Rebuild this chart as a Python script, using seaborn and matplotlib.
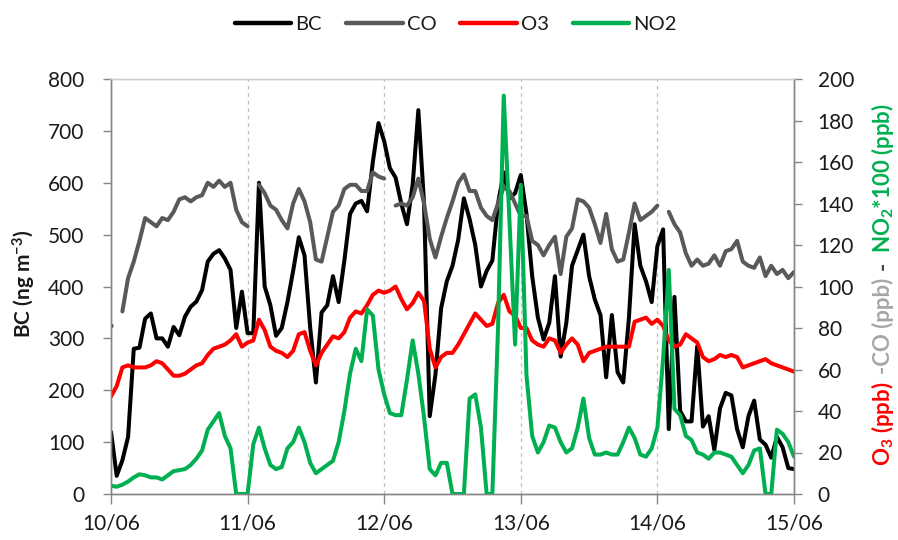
import numpy as np
import pandas as pd
import matplotlib
matplotlib.use("Agg")
import matplotlib.pyplot as plt
from matplotlib.lines import Line2D
import seaborn as sns

# ---------------- data (hourly, 10/06 00h -> 15/06 00h) ----------------
hours = list(range(121))
day_ticks = [0, 24, 48, 72, 96, 120]
day_labels = ["10/06", "11/06", "12/06", "13/06", "14/06", "15/06"]

bc = [120, 35, 65, 110, 280, 282, 338, 348, 300, 300, 284, 322, 306, 342, 361, 371, 393, 448, 463, 470, 454, 432, 320, 390, 310,
      310, 600, 400, 364, 305, 320, 370, 430, 495, 460, 320, 215, 350, 364, 420, 370, 450, 540, 560, 565, 545, 640, 715, 680,
      628, 610, 560, 520, 596, 740, 560, 150, 230, 358, 410, 440, 490, 570, 530, 480, 400, 430, 450, 560, 620, 570, 580, 615,
      540, 420, 340, 298, 330, 420, 265, 330, 440, 470, 500, 420, 375, 345, 225, 345, 235, 215, 340, 520, 440, 410, 370, 478,
      510, 125, 380, 160, 140, 140, 285, 130, 150, 85, 165, 195, 190, 125, 90, 150, 180, 105, 95, 70, 110, 90, 50, 48]

nan = float("nan")
co = [81, nan, 88, 104, 112, 122, 133, 131, 129, 133, 132, 136, 142, 143, 141, 143, 144, 150, 148, 151, 148, 150, 137, 131, 129,
      nan, 149, 145, 139, 137, 132, 128, 140, 147, 141, 131, 113, 112, 124, 136, 139, 147, 149, 149, 146, 146, 155, 153, 152,
      nan, 139, 140, 139, 143, 152, 140, 123, 114, 124, 133, 141, 150, 154, 146, 146, 138, 134, 132, 140, 148, 146, 140, 134,
      134, 122, 120, 115, 120, 124, 106, 124, 128, 142, 141, 138, 130, 121, 135, 118, 112, 113, 126, 140, 132, 134, 136, 139,
      nan, 136, 130, 126, 116, 110, 113, 110, 111, 115, 110, 117, 118, 122, 112, 110, 109, 114, 105, 110, 106, 108, 104, 107]

o3 = [47, 52, 61, 62, 61, 61, 61, 62, 64, 63, 60, 57, 57, 58, 60, 62, 63, 67, 70, 71, 72, 74, 77, 71, 73,
      74, 84, 79, 71, 69, 68, 66, 69, 77, 78, 69, 62, 68, 72, 76, 75, 78, 85, 88, 87, 91, 96, 98, 97,
      98, 100, 94, 89, 92, 97, 93, 70, 61, 66, 68, 68, 72, 77, 82, 87, 84, 81, 82, 92, 96, 88, 86, 80,
      80, 74, 72, 71, 75, 74, 68, 72, 75, 72, 64, 68, 69, 70, 71, 71, 71, 71, 71, 83, 84, 85, 82, 84,
      81, 74, 71, 72, 77, 75, 73, 66, 64, 65, 67, 66, 67, 66, 61, 62, 63, 64, 65, 63, 62, 61, 60, 59]

no2 = [4, 3.5, 4.5, 6, 8, 9.5, 9, 8, 8, 7, 9, 11, 11.5, 12, 14, 17, 21, 31, 35, 39, 28, 22, 0, 0, 0,
       24, 32, 22, 14, 12, 13, 22, 25, 32, 25, 15, 10, 12, 14, 16, 25, 40, 58, 70, 64, 89, 86, 60, 48,
       39, 38, 38, 55, 74, 58, 37, 12, 9, 15, 15, 0, 0, 0, 46, 48, 32, 0, 0, 80, 192, 132, 72, 149,
       57, 28, 20, 25, 33, 32, 25, 20, 22, 32, 46, 27, 19, 19, 20, 19, 19, 25, 32, 27, 19, 18, 22, 32,
       65, 108, 41, 38, 28, 26, 20, 19, 17, 20, 20, 19, 18, 14, 10, 14, 21, 22, 0, 0, 31, 29, 25, 18]

series_names = ["BC", "CO", "O3", "NO2"]
series_colors = ["#000000", "#595959", "#FF0000", "#00B050"]

# ---------------- figure ----------------
sns.set_theme(style="white")
plt.rcParams['font.family'] = ['Lato', 'DejaVu Sans']
plt.rcParams['mathtext.default'] = 'regular'

W, H = 898, 540
fig = plt.figure(figsize=(W / 100, H / 100), dpi=100)
ax = fig.add_axes([111 / W, 1 - 494 / H, 683 / W, 415 / H])
ax2 = ax.twinx()

df = pd.DataFrame({"hour": hours, "BC": bc, "CO": co, "O3": o3, "NO2": no2})
df["seg"] = df["CO"].isna().cumsum()

lw = 2.9
sns.lineplot(data=df, x="hour", y="BC", ax=ax, color=series_colors[0], lw=lw,
             solid_joinstyle="round", solid_capstyle="round")
co_df = df.dropna(subset=["CO"])
sns.lineplot(data=co_df, x="hour", y="CO", units="seg", estimator=None, ax=ax2,
             color=series_colors[1], lw=lw, solid_joinstyle="round", solid_capstyle="round")
iso = co_df.groupby("seg").filter(lambda g: len(g) == 1)
sns.scatterplot(data=iso, x="hour", y="CO", ax=ax2, color=series_colors[1], s=14,
                edgecolor="none", legend=False)
sns.lineplot(data=df, x="hour", y="O3", ax=ax2, color=series_colors[2], lw=lw,
             solid_joinstyle="round", solid_capstyle="round")
sns.lineplot(data=df, x="hour", y="NO2", ax=ax2, color=series_colors[3], lw=lw,
             solid_joinstyle="round", solid_capstyle="round")

# ---------------- axes styling ----------------
spine_c = "#868686"
ax.set_xlim(0, 120)
ax.set_ylim(0, 800)
ax2.set_ylim(0, 200)
ax.set_xticks(day_ticks)
ax.set_xticklabels(day_labels)
ax.set_yticks(range(0, 801, 100))
ax2.set_yticks(range(0, 201, 20))
ax.set_xlabel("")
ax.set_ylabel("")
ax2.set_ylabel("")

ax.xaxis.grid(True, color="#BFBFBF", linestyle=(0, (3, 3)), linewidth=0.9)
ax.yaxis.grid(False)
ax2.grid(False)
ax.set_axisbelow(True)

for a in (ax, ax2):
    for s in a.spines.values():
        s.set_color(spine_c)
        s.set_linewidth(1.0)
    a.spines["top"].set_color("#D0D0D0")

lab_c = "#1A1A1A"
tsize = 15
ax.tick_params(axis="y", direction="out", length=6, width=1, color=spine_c,
               pad=13, labelsize=tsize, labelcolor=lab_c, left=True)
ax.tick_params(axis="x", direction="out", length=7, width=1, color=spine_c,
               pad=7, labelsize=tsize, labelcolor=lab_c, bottom=True)
ax2.tick_params(axis="y", direction="out", length=6, width=1, color=spine_c,
                pad=11, labelsize=tsize, labelcolor=lab_c, right=True)

# ---------------- left label ----------------
fig.text(24 / W, 1 - 284 / H, r"BC (ng m$^{-3}$)", rotation=90, fontweight="bold",
         fontsize=15, ha="center", va="center", color=lab_c)

# ---------------- legend ----------------
handles = [Line2D([], [], color=c, lw=3.2) for c in series_colors]
fig.legend(handles, series_names, loc="center", bbox_to_anchor=(456 / W, 1 - 24 / H),
           ncol=4, frameon=False, fontsize=14.5, handlelength=2.8, handletextpad=0.2,
           columnspacing=1.2, labelcolor=lab_c)

# ---------------- multi-coloured right label ----------------
fig.canvas.draw()
renderer = fig.canvas.get_renderer()
pieces = [("O$_3$ (ppb)", "#FF0000"), ("-CO (ppb)", "#A6A6A6"), ("-", "#404040"),
          ("NO$_2$*100 (ppb)", "#00B050")]
gap = 8.0
base_x = 890 / W
tmp = []
lengths = []
for s, c in pieces:
    t = fig.text(base_x, 0.5, s, rotation=90, rotation_mode="anchor", ha="left",
                 va="baseline", fontweight="bold", fontsize=16, color=c)
    bb = t.get_window_extent(renderer)
    lengths.append(bb.height)
    tmp.append(t)
total = sum(lengths) + gap * (len(pieces) - 1)
y_px = (H - 285) - total / 2
for t, L in zip(tmp, lengths):
    t.set_position((base_x, y_px / H))
    y_px += L + gap

fig.savefig("out.png", dpi=100)
